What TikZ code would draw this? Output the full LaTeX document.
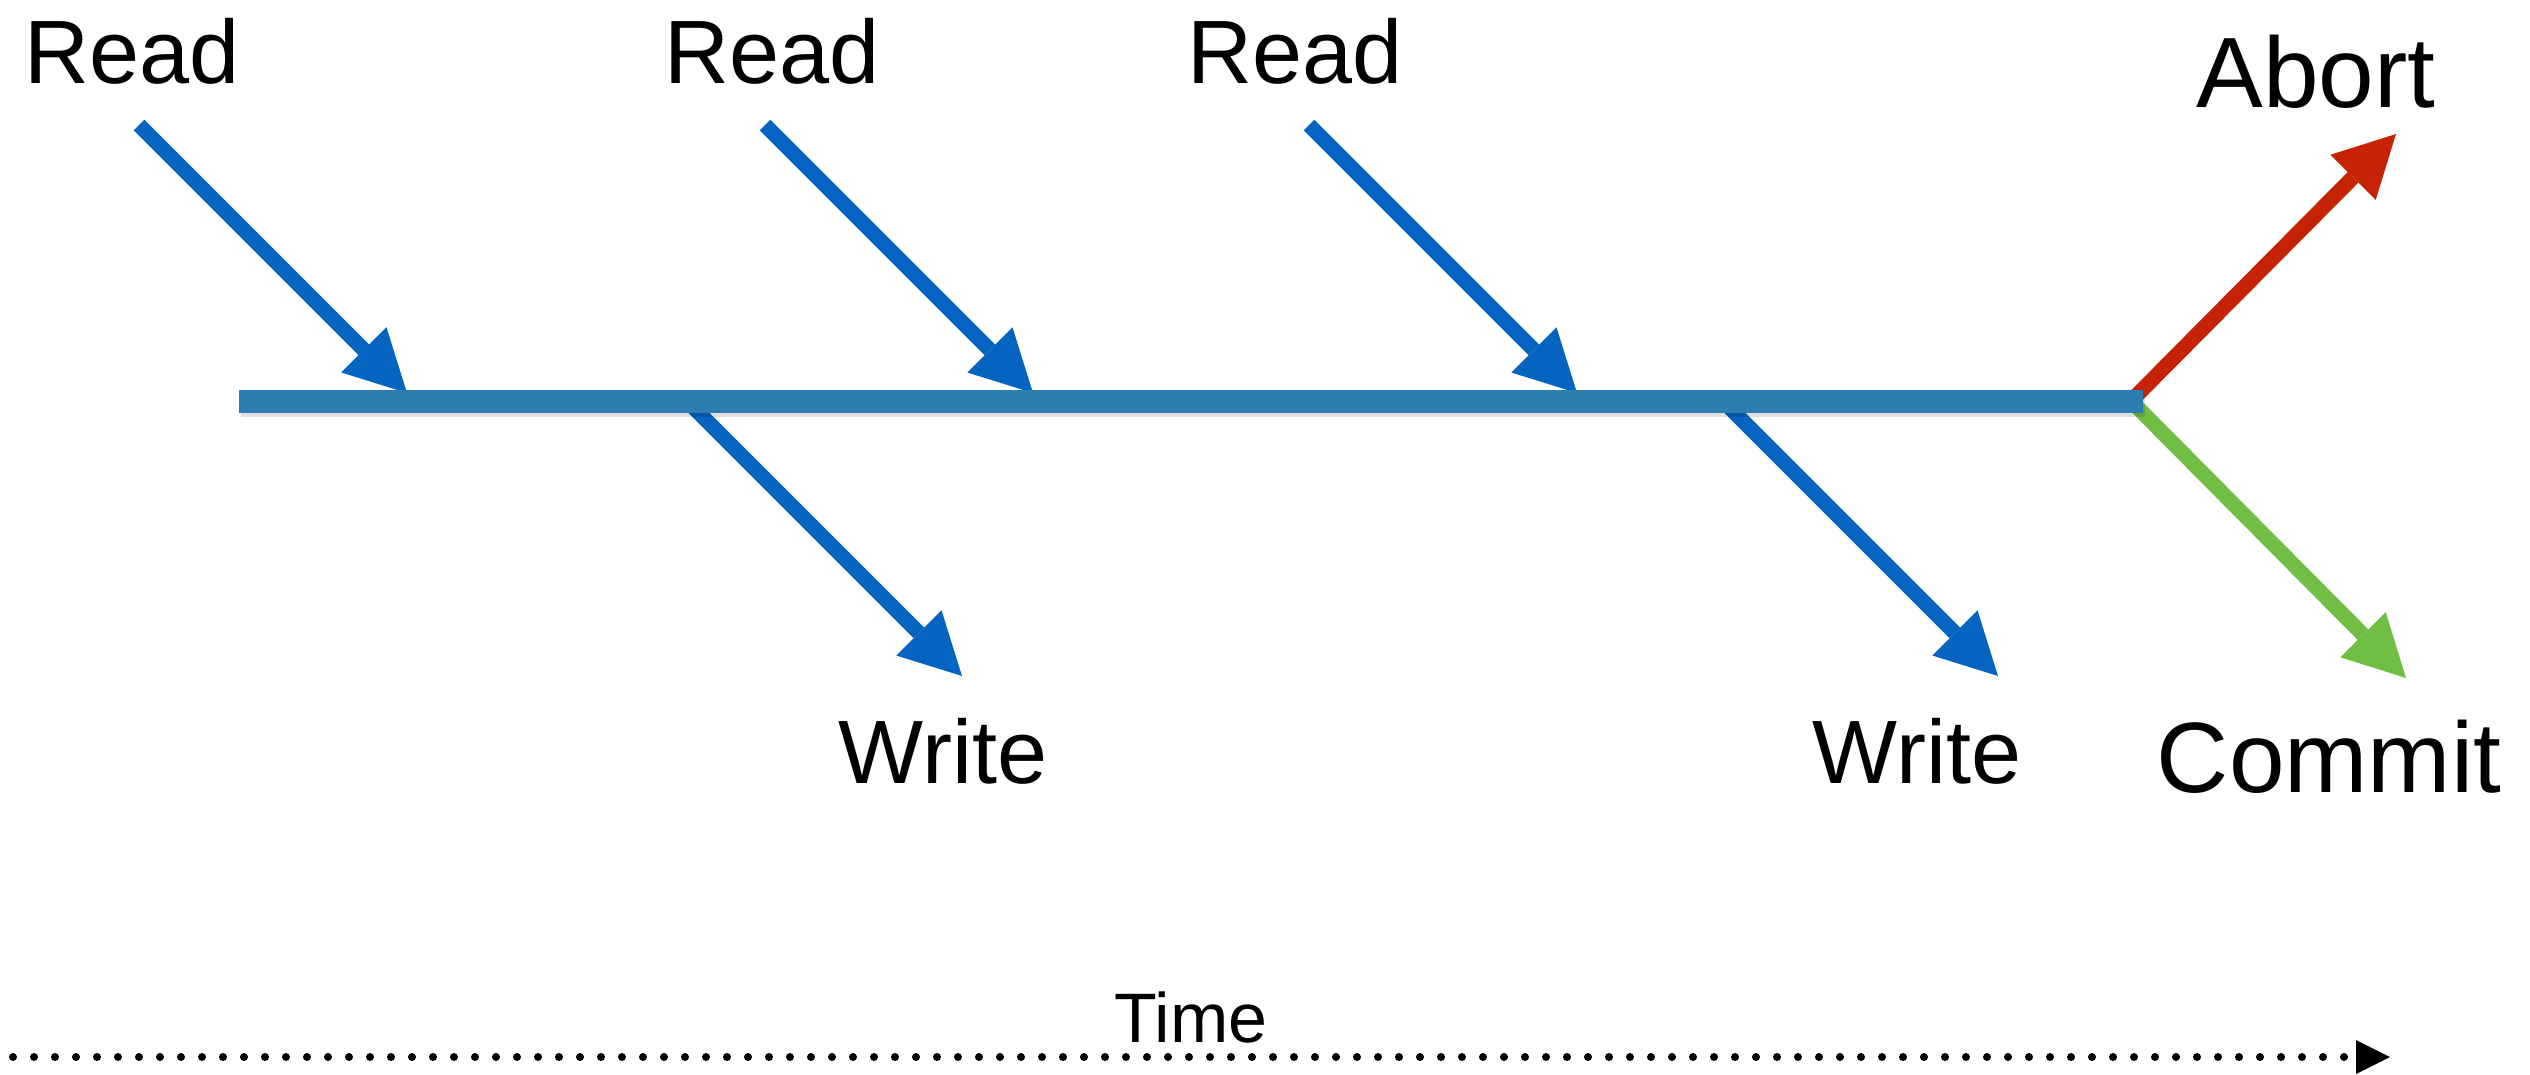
\documentclass[tikz,border=0pt]{standalone}
\usepackage{fontspec}
\setmainfont{Liberation Sans}
\usetikzlibrary{arrows.meta}
\definecolor{opblue}{RGB}{5,100,192}
\definecolor{barblue}{RGB}{46,125,178}
\definecolor{abortred}{RGB}{198,35,6}
\definecolor{commitgreen}{RGB}{112,190,68}
\begin{document}
\begin{tikzpicture}[x=1pt,y=-1pt,
  op/.style={line width=15pt, -{Triangle[length=61pt,width=64pt,line width=0pt]}},
  lbl/.style={anchor=base, inner sep=0pt, font=\fontsize{90}{100}\selectfont},
  biglbl/.style={anchor=base, inner sep=0pt, font=\fontsize{100}{110}\selectfont},
  timelbl/.style={anchor=base, inner sep=0pt, font=\fontsize{70}{80}\selectfont},
]
\useasboundingbox (0,0) rectangle (2530,1074);

% labels
\node[lbl] (read1) at (132,83) {Read};
\node[lbl] (read2) at (772,83) {Read};
\node[lbl] (read3) at (1295,83) {Read};
\node[lbl] (write1) at (943,783) {Write};
\node[lbl] (write2) at (1917,783) {Write};
\node[biglbl] (abort) at (2316,107) {Abort};
\node[biglbl] (commit) at (2329,792) {Commit};
\node[timelbl] (time) at (1191,1042) {Time};

% arrow end points
\coordinate (r1s) at (139,125);  \coordinate (r1e) at (407,393);
\coordinate (r2s) at (765,125);  \coordinate (r2e) at (1033,393);
\coordinate (r3s) at (1309,125); \coordinate (r3e) at (1577,393);
\coordinate (w1s) at (694,408);  \coordinate (w1e) at (962,676);
\coordinate (w2s) at (1730,408); \coordinate (w2e) at (1998,676);
\coordinate (abs) at (2136,396); \coordinate (abe) at (2396,134);
\coordinate (cms) at (2136,406); \coordinate (cme) at (2406,678);
\coordinate (barL) at (239,401); \coordinate (barR) at (2143,401);
\coordinate (t0) at (13,1057);   \coordinate (t1) at (2390,1057);

% operations
\draw[op, opblue] (r1s) -- (r1e);
\draw[op, opblue] (r2s) -- (r2e);
\draw[op, opblue] (r3s) -- (r3e);
\draw[op, opblue] (w1s) -- (w1e);
\draw[op, opblue] (w2s) -- (w2e);
\draw[op, abortred] (abs) -- (abe);
\draw[op, commitgreen] (cms) -- (cme);

% transaction bar with a soft shadow
\draw[black, opacity=0.12, line width=23pt] ([shift={(2,4)}]barL) -- ([shift={(2,4)}]barR);
\draw[barblue, line width=23pt] (barL) -- (barR);

% time axis
\draw[line width=8pt, line cap=round, dash pattern=on 0pt off 21pt,
      -{Triangle[length=34pt,width=34pt,line width=0pt]}] (t0) -- (t1);
\end{tikzpicture}
\end{document}
